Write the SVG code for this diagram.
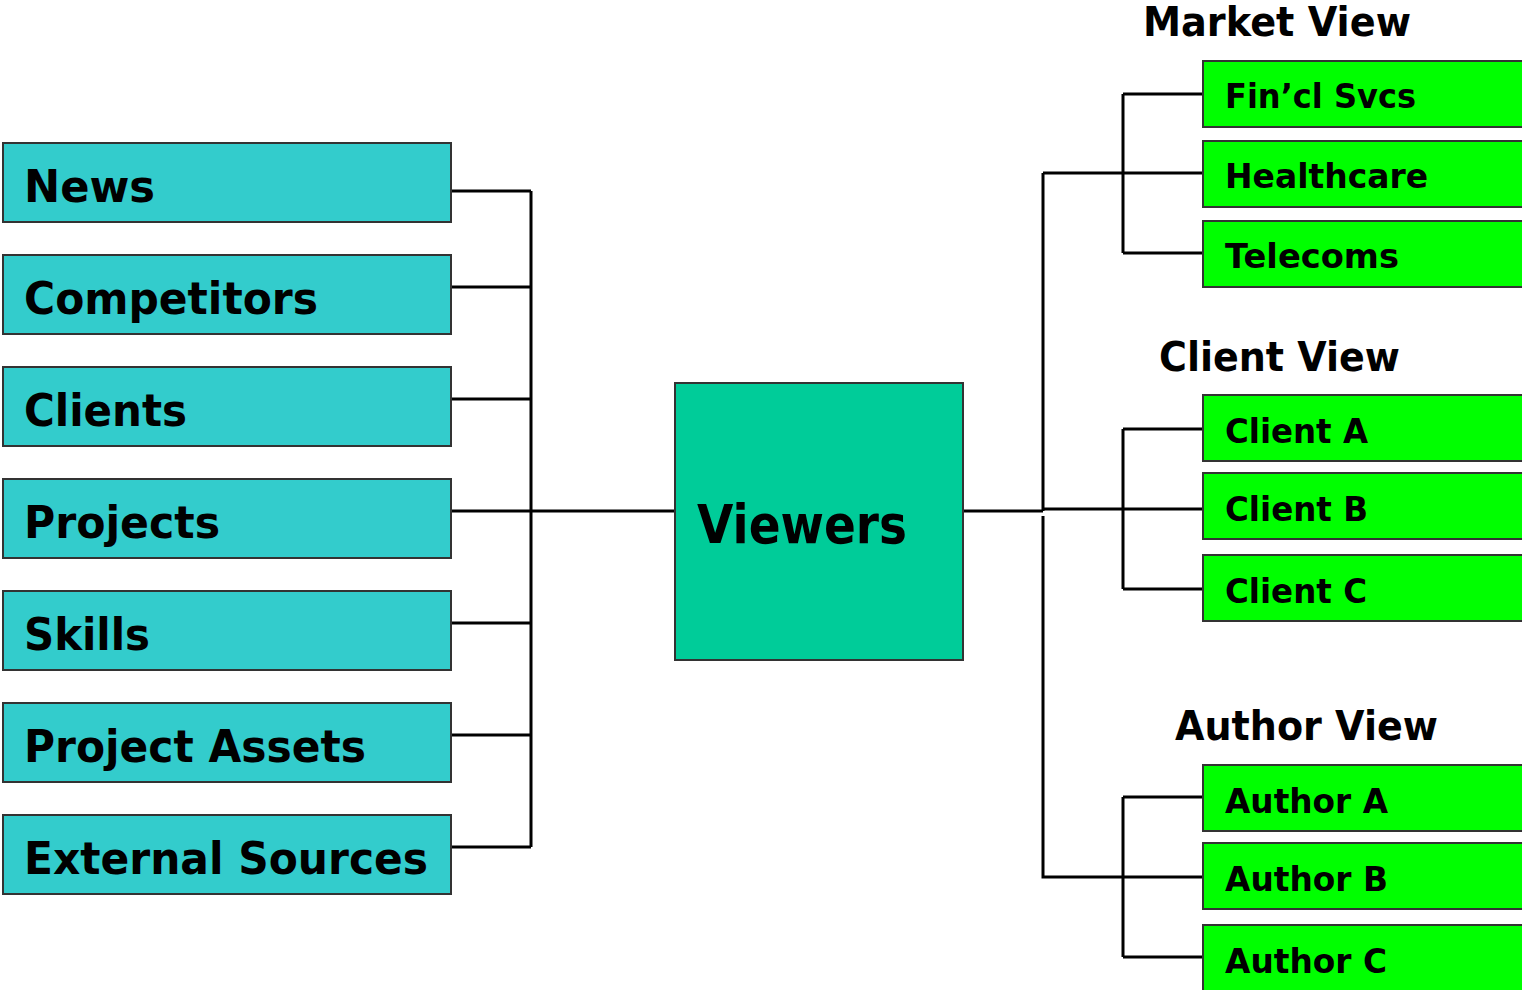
<svg xmlns="http://www.w3.org/2000/svg" width="1522" height="990" viewBox="0 0 1522 990">
<style>
.src{fill:#33CCCC;stroke:#333;stroke-width:2}
.ctr{fill:#00CC99;stroke:#333;stroke-width:2}
.grn{fill:#00FF00;stroke:#333;stroke-width:2}
text{font-family:"DejaVu Sans","Liberation Sans",sans-serif;font-weight:bold;fill:#000}
.lt{font-size:44px}
.gt{font-size:34px}
.ht{font-size:40px}
.conn{fill:none;stroke:#000;stroke-width:3}
</style>
<rect width="1522" height="990" fill="#fff"/>
<g id="connectors" class="conn">
<path d="M451 191H531M451 287H531M451 399H531M451 511H531M451 623H531M451 735H531M451 847H531M531 191V847M531 511H675"/>
<path d="M963 511H1043M1043 173V511M1043 509H1203M1043 516V877H1203"/>
<path d="M1043 173H1203M1123 94V253M1123 94H1203M1123 253H1203"/>
<path d="M1123 429V589M1123 429H1203M1123 589H1203"/>
<path d="M1123 797V957M1123 797H1203M1123 957H1203"/>
</g>
<g id="news"><rect class="src" x="3" y="143" width="448" height="79"/><text class="lt" x="24" y="202" textLength="131" lengthAdjust="spacingAndGlyphs">News</text></g>
<g id="competitors"><rect class="src" x="3" y="255" width="448" height="79"/><text class="lt" x="24" y="314" textLength="294" lengthAdjust="spacingAndGlyphs">Competitors</text></g>
<g id="clients"><rect class="src" x="3" y="367" width="448" height="79"/><text class="lt" x="24" y="426" textLength="163" lengthAdjust="spacingAndGlyphs">Clients</text></g>
<g id="projects"><rect class="src" x="3" y="479" width="448" height="79"/><text class="lt" x="24" y="538" textLength="196" lengthAdjust="spacingAndGlyphs">Projects</text></g>
<g id="skills"><rect class="src" x="3" y="591" width="448" height="79"/><text class="lt" x="24" y="650" textLength="126" lengthAdjust="spacingAndGlyphs">Skills</text></g>
<g id="project-assets"><rect class="src" x="3" y="703" width="448" height="79"/><text class="lt" x="24" y="762" textLength="342" lengthAdjust="spacingAndGlyphs">Project Assets</text></g>
<g id="external-sources"><rect class="src" x="3" y="815" width="448" height="79"/><text class="lt" x="24" y="874" textLength="404" lengthAdjust="spacingAndGlyphs">External Sources</text></g>
<g id="viewers"><rect class="ctr" x="675" y="383" width="288" height="277"/><text x="697" y="543" font-size="54" textLength="210" lengthAdjust="spacingAndGlyphs">Viewers</text></g>
<g id="market-view"><text class="ht" x="1143" y="36" textLength="268" lengthAdjust="spacingAndGlyphs">Market View</text></g>
<g id="client-view"><text class="ht" x="1159" y="371" textLength="241" lengthAdjust="spacingAndGlyphs">Client View</text></g>
<g id="author-view"><text class="ht" x="1175" y="740" textLength="263" lengthAdjust="spacingAndGlyphs">Author View</text></g>
<g id="fincl"><rect class="grn" x="1203" y="61" width="330" height="66"/><text class="gt" x="1225" y="108" textLength="191" lengthAdjust="spacingAndGlyphs">Fin’cl Svcs</text></g>
<g id="healthcare"><rect class="grn" x="1203" y="141" width="330" height="66"/><text class="gt" x="1225" y="188" textLength="203" lengthAdjust="spacingAndGlyphs">Healthcare</text></g>
<g id="telecoms"><rect class="grn" x="1203" y="221" width="330" height="66"/><text class="gt" x="1225" y="268" textLength="174" lengthAdjust="spacingAndGlyphs">Telecoms</text></g>
<g id="client-a"><rect class="grn" x="1203" y="395" width="330" height="66"/><text class="gt" x="1225" y="443" textLength="143" lengthAdjust="spacingAndGlyphs">Client A</text></g>
<g id="client-b"><rect class="grn" x="1203" y="473" width="330" height="66"/><text class="gt" x="1225" y="521" textLength="143" lengthAdjust="spacingAndGlyphs">Client B</text></g>
<g id="client-c"><rect class="grn" x="1203" y="555" width="330" height="66"/><text class="gt" x="1225" y="603" textLength="142" lengthAdjust="spacingAndGlyphs">Client C</text></g>
<g id="author-a"><rect class="grn" x="1203" y="765" width="330" height="66"/><text class="gt" x="1225" y="813" textLength="163" lengthAdjust="spacingAndGlyphs">Author A</text></g>
<g id="author-b"><rect class="grn" x="1203" y="843" width="330" height="66"/><text class="gt" x="1225" y="891" textLength="163" lengthAdjust="spacingAndGlyphs">Author B</text></g>
<g id="author-c"><rect class="grn" x="1203" y="925" width="330" height="66"/><text class="gt" x="1225" y="973" textLength="162" lengthAdjust="spacingAndGlyphs">Author C</text></g>
</svg>
